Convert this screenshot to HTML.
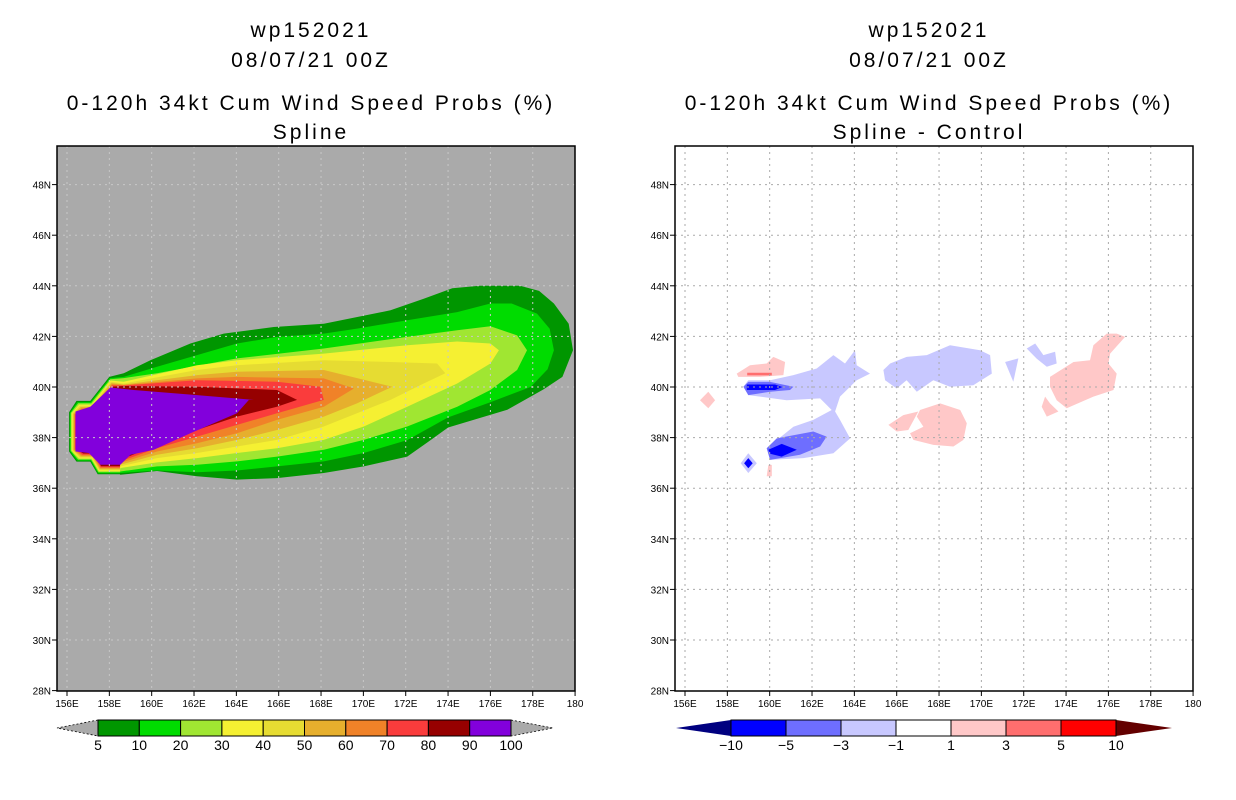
<!DOCTYPE html>
<html><head><meta charset="utf-8"><style>
html,body{margin:0;padding:0;background:#fff;width:1236px;height:800px;overflow:hidden}
svg{display:block}
text{font-family:"Liberation Sans",sans-serif;fill:#000}
.t{font-size:21px;text-anchor:middle;letter-spacing:3px}
.tk{font-size:10px}
.cb{font-size:14px;text-anchor:middle}
</style></head><body>
<svg id="svg" width="1236" height="800" viewBox="0 0 1236 800">
<g>
<text class="t" x="311" y="37">wp152021</text>
<text class="t" x="311" y="67">08/07/21 00Z</text>
<text class="t" x="311" y="110">0-120h 34kt Cum Wind Speed Probs (%)</text>
<text class="t" x="311" y="139">Spline</text>
</g>
<g>
<text class="t" x="929" y="37">wp152021</text>
<text class="t" x="929" y="67">08/07/21 00Z</text>
<text class="t" x="929" y="110">0-120h 34kt Cum Wind Speed Probs (%)</text>
<text class="t" x="929" y="139">Spline - Control</text>
</g>
<g id="left"></g>
<g id="right"></g>
<g id="cbl"></g>
<g id="cbr"></g>
</svg>
<script>
const NS='http://www.w3.org/2000/svg';
const lonTicks=[156,158,160,162,164,166,168,170,172,174,176,178,180];
const lonLabels=['156E','158E','160E','162E','164E','166E','168E','170E','172E','174E','176E','178E','180'];
const latTicks=[28,30,32,34,36,38,40,42,44,46,48];
const latLabels=['28N','30N','32N','34N','36N','38N','40N','42N','44N','46N','48N'];
const probLevels=[5,10,20,30,40,50,60,70,80,90,100];
const probColors=['#009600','#00dc00','#a0e632','#f5f032','#e6dc32','#e6af2d','#f08228','#fa3c3c','#960000','#8200dc'];
const diffLevels=[-10,-5,-3,-1,1,3,5,10];
const diffColors=['#0000ff','#6e6eff','#c8c8ff','#ffffff','#ffc8c8','#ff6e6e','#ff0000'];
const diffLow='#000080', diffHigh='#640000';
// contour outlines (lon,lat): lower edges W->E, upper edges W->E
const lower5=[[158.52,36.53],[160.25,36.68],[162.14,36.47],[164.03,36.34],[165.92,36.4],[168.13,36.6],[170.02,36.86],[172.07,37.25],[173.0,37.8],[174.0,38.4],[176.8,39.1],[178.5,39.9],[179.4,40.4],[179.9,41.45]];
const upper5=[[158.68,40.54],[159.94,41.06],[161.83,41.72],[163.4,42.11],[165.77,42.37],[168.13,42.5],[171.28,43.03],[172.85,43.49],[174.2,43.9],[175.5,44.0],[177.4,44.0],[178.3,43.8],[179.0,43.3],[179.7,42.5]];
const lower10=[[158.5,36.6],[160.25,36.7],[162.14,36.63],[164.03,36.7],[165.92,36.86],[168.13,37.06],[170.02,37.39],[172.07,37.9],[174.0,38.8],[176.0,39.4],[177.9,40.0],[178.7,40.7],[179.0,41.45]];
const upper10=[[158.68,40.4],[160.25,40.8],[162.14,41.26],[164.03,41.72],[165.92,41.98],[168.13,42.11],[169.7,42.31],[172.07,42.64],[174.43,42.96],[176.0,43.3],[177.0,43.3],[178.2,42.9],[178.8,42.3]];
const lower20=[[158.52,36.66],[160.25,36.86],[162.14,36.93],[164.03,37.06],[165.92,37.25],[168.13,37.52],[170.02,37.91],[172.07,38.44],[174.43,39.22],[176.0,39.88],[177.26,40.67],[177.73,41.45]];
const upper20=[[158.68,40.35],[160.25,40.54],[164.03,41.13],[168.13,41.52],[172.07,41.98],[174.43,42.24],[176.0,42.4],[177.26,42.04]];
const lower30=[[158.52,36.8],[160.25,37.02],[162.14,37.19],[164.03,37.39],[165.92,37.58],[168.13,37.91],[170.02,38.44],[172.07,39.22],[174.43,40.14],[176.0,40.93],[176.4,41.45]];
const upper30=[[158.68,40.21],[162.14,40.86],[164.03,41.06],[168.13,41.32],[172.07,41.65],[174.43,41.8],[176.0,41.72]];
const lower40=[[158.52,36.86],[160.25,37.19],[162.14,37.39],[164.03,37.65],[165.92,37.91],[168.13,38.44],[171.28,39.49],[172.85,40.14],[173.87,40.54]];
const upper40=[[158.68,40.14],[162.14,40.67],[164.03,40.86],[168.13,41.06],[171.28,40.99],[173.48,40.93]];
const lower50=[[158.52,36.93],[160.25,37.32],[162.14,37.58],[164.03,37.91],[165.92,38.3],[168.13,38.83],[169.7,39.35],[171.36,40.01]];
const upper50=[[158.68,40.1],[162.14,40.47],[164.03,40.6],[168.13,40.67]];
const lower60=[[158.52,37.0],[160.25,37.45],[162.14,37.78],[164.03,38.17],[165.92,38.7],[168.13,39.22],[169.55,39.94]];
const upper60=[[158.68,40.08],[162.14,40.34],[164.03,40.4],[168.13,40.34]];
const lower70=[[158.52,37.06],[160.25,37.58],[162.14,38.04],[164.03,38.5],[165.92,38.96],[168.13,39.49],[167.97,40.01]];
const upper70=[[158.68,40.06],[162.14,40.27],[165.92,40.21]];
const lower80=[[158.52,37.12],[160.25,37.71],[162.14,38.3],[164.03,38.83],[165.92,39.22],[166.87,39.49]];
const upper80=[[158.68,40.04],[162.14,40.01],[165.92,39.88]];
const region90=[[156.4,39.03],[156.4,37.45],[157.03,37.39],[157.58,36.93],[158.52,36.93],[159.0,37.32],[160.1,37.52],[161.83,38.17],[164.03,38.96],[164.59,39.49],[164.82,39.49],[162.14,39.68],[159.15,39.88],[158.05,39.98],[157.1,39.22]];
const lowers=[lower5,lower10,lower20,lower30,lower40,lower50,lower60,lower70,lower80];
const uppers=[upper5,upper10,upper20,upper30,upper40,upper50,upper60,upper70,upper80];
// difference field regions: [colorIndex, points]
const diffRegions=[
[2,[[158.76,40.01],[158.99,40.27],[160.02,40.27],[161.12,40.47],[162.22,40.73],[163.01,41.26],[163.56,40.93],[164.03,41.45],[164.11,40.86],[164.74,40.53],[164.11,40.27],[163.32,39.62],[163.09,39.03],[163.32,38.7],[163.8,37.97],[163.01,37.38],[161.59,37.19],[160.02,37.12],[159.86,37.58],[161.12,38.43],[162.06,38.7],[162.93,39.09],[162.38,39.55],[160.8,39.48],[158.99,39.68]]],
[1,[[158.76,40.01],[158.99,40.2],[160.02,40.2],[161.12,40.01],[160.96,39.88],[160.02,39.81],[158.99,39.68]]],
[0,[[158.92,40.1],[160.25,40.1],[160.6,40.0],[160.25,39.88],[158.92,39.88]]],
[1,[[159.86,37.58],[160.33,37.97],[162.06,38.24],[162.69,38.04],[162.38,37.65],[161.43,37.32],[160.02,37.12]]],
[0,[[159.94,37.52],[160.57,37.75],[161.28,37.52],[160.57,37.25],[160.02,37.36]]],
[2,[[158.99,37.38],[159.39,36.99],[158.99,36.6],[158.63,36.99]]],
[0,[[158.99,37.19],[159.2,36.99],[158.99,36.79],[158.79,36.99]]],
[2,[[165.37,40.67],[165.69,40.93],[166.47,41.19],[167.42,41.26],[168.52,41.65],[169.94,41.45],[170.41,41.26],[170.49,40.53],[169.62,40.07],[168.52,40.01],[167.73,40.27],[166.95,39.81],[166.47,40.27],[166.0,39.94],[165.45,40.27]]],
[2,[[171.12,40.99],[171.75,41.13],[171.51,40.21]]],
[2,[[172.14,41.52],[172.54,41.72],[172.93,41.26],[173.48,41.39],[173.56,40.93],[173.09,40.8],[172.62,41.12]]],
[4,[[156.71,39.48],[157.1,39.81],[157.42,39.48],[157.1,39.16]]],
[4,[[158.44,40.53],[159.07,40.86],[159.86,40.93],[160.17,41.19],[160.73,40.99],[160.65,40.47],[159.55,40.4],[158.52,40.4]]],
[5,[[158.94,40.56],[160.1,40.56],[160.1,40.46],[158.94,40.46]]],
[4,[[159.94,36.92],[160.1,36.92],[160.1,36.47],[159.86,36.47]]],
[4,[[165.61,38.5],[166.31,38.89],[167.02,39.03],[166.55,38.3],[166.0,38.24]]],
[4,[[167.1,39.09],[168.05,39.35],[169.0,39.09],[169.31,38.57],[169.15,37.91],[168.68,37.65],[167.73,37.71],[166.79,37.91],[166.63,38.17],[167.26,38.43],[166.95,38.83]]],
[4,[[173.24,40.4],[174.35,40.99],[175.13,41.06],[175.29,41.65],[175.92,42.11],[176.39,42.11],[176.79,41.98],[176.08,41.32],[176.0,40.93],[176.39,40.53],[176.24,39.88],[175.29,39.62],[174.03,39.16],[173.56,39.48],[173.24,40.01]]],
[4,[[173.01,39.62],[173.24,39.35],[173.64,39.03],[173.09,38.83],[172.85,39.22]]]
];

function mk(tag,attrs,parent){const e=document.createElementNS(NS,tag);for(const k in attrs)e.setAttribute(k,attrs[k]);parent.appendChild(e);return e;}
function proj(x0){
  return {x:lon=>x0+10+(lon-156)*21.17, y:lat=>387-(lat-40)*25.3};
}
function pts(P,arr){return arr.map(p=>P.x(p[0]).toFixed(1)+','+P.y(p[1]).toFixed(1)).join(' ');}
function hex(d){
  return [[158.0+d*0.5,40.4-d*1.2],[157.1+d*0.5,39.45-d*1.2],[156.45+d,39.45-d*1.2],[156.1+d,39.0-d*0.3],[156.1+d,37.45+d*0.3],[156.45+d,37.05+d],[157.1+d*0.5,37.05+d],[157.45+d*0.5,36.55+d],[158.5,36.55+d]];
}
function panel(g,x0,bg,grid,drawFn,prefix){
  const W=518,T=146,H=545;
  const P=proj(x0);
  mk('rect',{x:x0,y:T,width:W,height:H,fill:bg},g);
  const clip=mk('clipPath',{id:'c'+prefix},g);
  mk('rect',{x:x0,y:T,width:W,height:H},clip);
  const fg=mk('g',{'clip-path':'url(#c'+prefix+')'},g);
  drawFn(fg,P);
  const gg=mk('g',{},g);
  
  
  lonTicks.forEach(l=>{const x=P.x(l);if(x<x0+W-1)mk('line',{x1:x,x2:x,y1:T,y2:T+H,stroke:grid,'stroke-width':1,'stroke-dasharray':'2,4'},gg);});
  latTicks.forEach(l=>{const y=P.y(l);if(y<T+H-1)mk('line',{x1:x0,x2:x0+W,y1:y,y2:y,stroke:grid,'stroke-width':1,'stroke-dasharray':'2,4'},gg);});
  mk('rect',{x:x0,y:T,width:W,height:H,fill:'none',stroke:'#000','stroke-width':1.5},g);
  lonTicks.forEach((l,i)=>{const x=P.x(l);mk('line',{x1:x,x2:x,y1:T+H,y2:T+H+5,stroke:'#000'},g);
    const t=mk('text',{x:x,y:T+H+16,class:'tk','text-anchor':'middle'},g);t.textContent=lonLabels[i];
    
    });
  latTicks.forEach((l,i)=>{const y=P.y(l);mk('line',{x1:x0-5,x2:x0,y1:y,y2:y,stroke:'#000'},g);
    const t=mk('text',{x:x0-6,y:y+4,class:'tk','text-anchor':'end'},g);t.textContent=latLabels[i];
    
    });
}
panel(document.getElementById('left'),57,'#aaaaaa','#c8c8c8',(g,P)=>{
  lowers.forEach((lo,i)=>{
    const poly=hex(i*0.04).concat(lo,uppers[i].slice().reverse());
    const p=mk('polygon',{points:pts(P,poly),fill:probColors[i]},g);
    
    
  });
  const p=mk('polygon',{points:pts(P,region90),fill:probColors[9]},g);
  
  
},'left');
panel(document.getElementById('right'),675,'#ffffff','#aaaaaa',(g,P)=>{
  diffRegions.forEach(r=>{
    const p=mk('polygon',{points:pts(P,r[1]),fill:diffColors[r[0]]},g);
    
    
  });
},'right');
function colorbar(g,x0,x1,tipL,tipR,colors,labels,cL,cR,dashed){
  const y0=720,y1=736,ym=728,n=colors.length,w=(x1-x0)/n;
  const a=mk('polygon',{points:`${tipL},${ym} ${x0},${y0} ${x0},${y1}`,fill:cL},g);
  
  const b=mk('polygon',{points:`${tipR},${ym} ${x1},${y0} ${x1},${y1}`,fill:cR},g);
  
  if(dashed){mk('polyline',{points:`${x0},${y0} ${tipL},${ym} ${x0},${y1}`,fill:'none',stroke:'#000','stroke-dasharray':'2,2','stroke-width':0.8},g);
    mk('polyline',{points:`${x1},${y0} ${tipR},${ym} ${x1},${y1}`,fill:'none',stroke:'#000','stroke-dasharray':'2,2','stroke-width':0.8},g);}
  colors.forEach((c,i)=>{const r=mk('rect',{x:x0+i*w,y:y0,width:w,height:y1-y0,fill:c,stroke:'#000','stroke-width':1},g);
    });
  labels.forEach((l,i)=>{const t=mk('text',{x:x0+i*w,y:750,class:'cb'},g);t.textContent=String(l).replace('-','\u2212');
    });
}
colorbar(document.getElementById('cbl'),98,511,57,553,probColors,probLevels,'#aaaaaa','#aaaaaa',true);
colorbar(document.getElementById('cbr'),731,1116,676,1172,diffColors,diffLevels,diffLow,diffHigh,false);
</script>
</body></html>
